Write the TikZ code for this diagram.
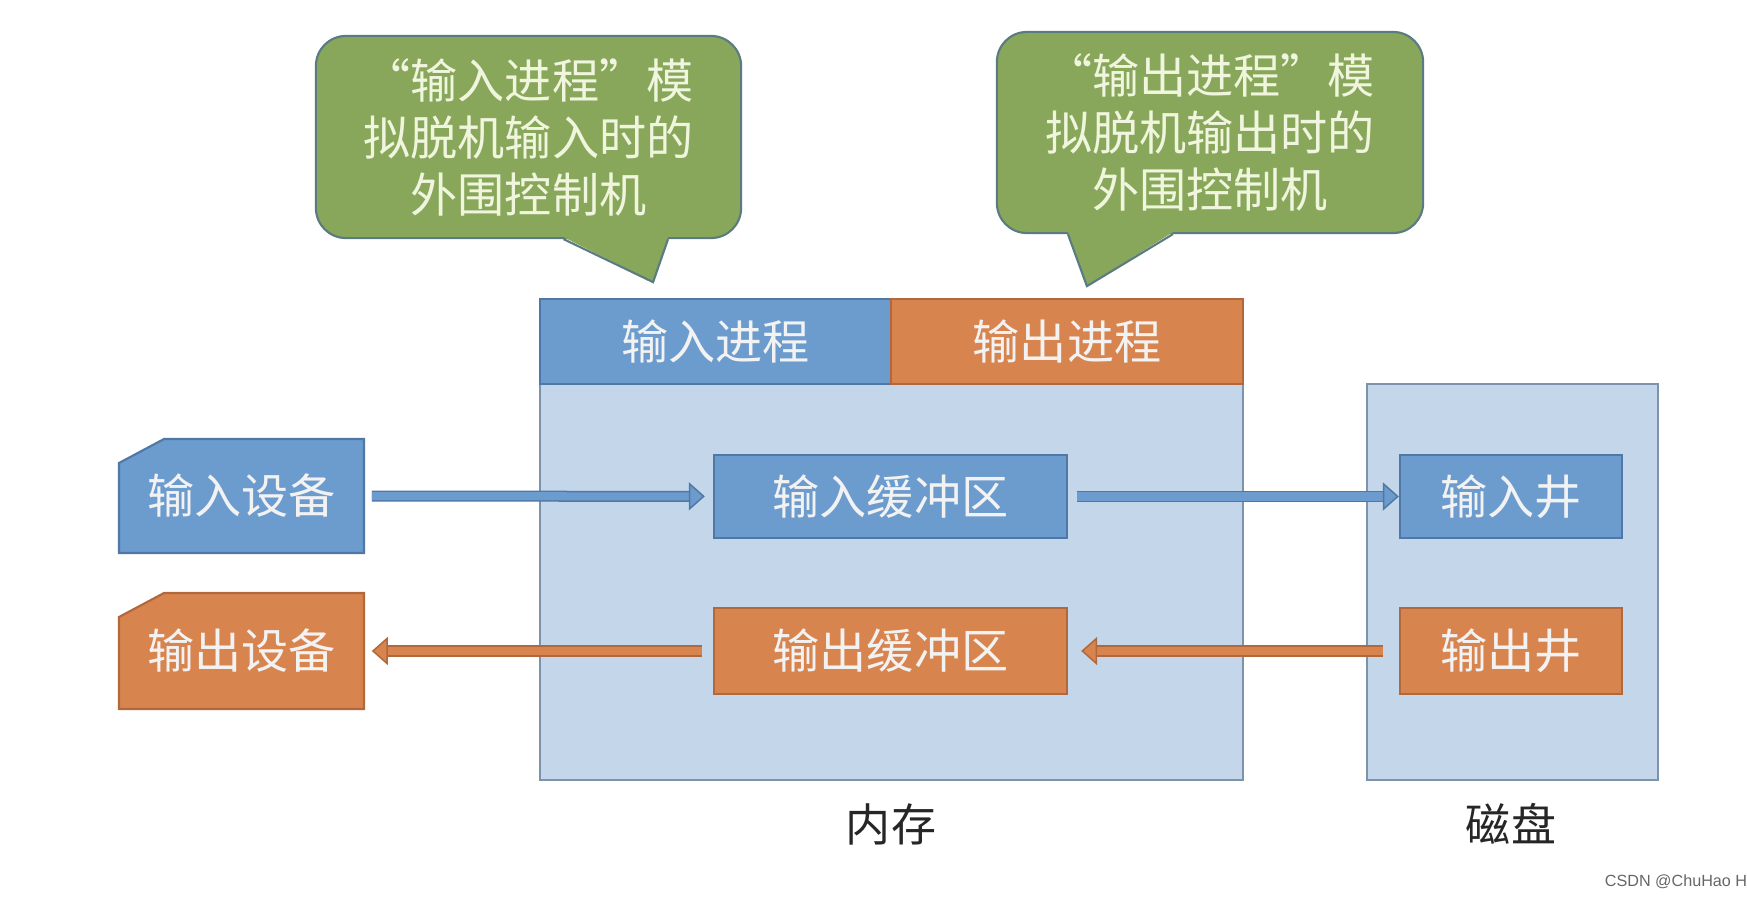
\documentclass[tikz,border=0pt]{standalone}
\usepackage{fontspec}
\setmainfont{Noto Sans CJK SC}
\newfontfamily\markfont{Liberation Sans}
\usetikzlibrary{arrows.meta}
\definecolor{procblue}{HTML}{6C9BCE}
\definecolor{blueline}{HTML}{4F78A6}
\definecolor{procorange}{HTML}{D8844F}
\definecolor{orangeline}{HTML}{B0683C}
\definecolor{memblue}{HTML}{C4D6EA}
\definecolor{memline}{HTML}{7D93AD}
\definecolor{bubblegreen}{HTML}{88A75A}
\definecolor{bubbleline}{HTML}{5B7B82}
\definecolor{bubbletext}{HTML}{F0F5DE}

\begin{document}
\begin{tikzpicture}[x=0.01cm,y=-0.01cm,
  txt/.style={font=\fontsize{13.4pt}{16.2pt}\selectfont},
  bluebox/.style={txt,rectangle,fill=procblue,draw=blueline,line width=0.6pt,text=white!95!black,inner sep=0pt},
  orangebox/.style={txt,rectangle,fill=procorange,draw=orangeline,line width=0.6pt,text=white!95!black,inner sep=0pt},
  area/.style={rectangle,fill=memblue,draw=memline,line width=0.6pt,inner sep=0pt},
  bubble/.style={txt,align=center,text=bubbletext,rounded corners=0.3cm,fill=bubblegreen,draw=bubbleline,line width=0.6pt,inner sep=0pt},
  blueflow/.style={draw=blueline,double=procblue,double distance=0.08cm,line width=0.015cm,
    -{Triangle[width=0.28cm,length=0.16cm,fill=procblue,line width=0.015cm]}},
  orangeflow/.style={draw=orangeline,double=procorange,double distance=0.08cm,line width=0.015cm,
    -{Triangle[width=0.28cm,length=0.16cm,fill=procorange,line width=0.015cm]}},
  caption/.style={font=\fontsize{12.8pt}{15pt}\selectfont,text=black!85}]
  \useasboundingbox (0,0) rectangle (1747,897);

  % speech bubbles
  \node[bubble,minimum width=4.25cm,minimum height=2.02cm] (inbubble) at (528.5,137) {“输入进程”模\\拟脱机输入时的\\外围控制机};
  \fill[bubblegreen] ([xshift=0.35cm,yshift=0.02cm]inbubble.south) -- ([xshift=1.245cm,yshift=-0.43cm]inbubble.south)
    -- ([xshift=1.395cm,yshift=0.02cm]inbubble.south) -- cycle;
  \draw[bubbleline,line width=0.6pt] ([xshift=0.35cm]inbubble.south) -- ([xshift=1.245cm,yshift=-0.43cm]inbubble.south)
    -- ([xshift=1.395cm]inbubble.south);
  \node[bubble,minimum width=4.26cm,minimum height=2.01cm] (outbubble) at (1210,132.5) {“输出进程”模\\拟脱机输出时的\\外围控制机};
  \fill[bubblegreen] ([xshift=-1.42cm,yshift=0.02cm]outbubble.south) -- ([xshift=-1.23cm,yshift=-0.52cm]outbubble.south)
    -- ([xshift=-0.37cm,yshift=0.02cm]outbubble.south) -- cycle;
  \draw[bubbleline,line width=0.6pt] ([xshift=-1.42cm]outbubble.south) -- ([xshift=-1.23cm,yshift=-0.52cm]outbubble.south)
    -- ([xshift=-0.37cm]outbubble.south);

  % memory and disk
  \node[area,minimum width=7.03cm,minimum height=3.96cm] (mem) at (891.5,582) {};
  \node[area,minimum width=2.91cm,minimum height=3.96cm] (disk) at (1512.5,582) {};
  \node[bluebox,minimum width=3.51cm,minimum height=0.85cm] (inproc) at (715.5,341.5) {输入进程};
  \node[orangebox,minimum width=3.52cm,minimum height=0.85cm] (outproc) at (1067,341.5) {输出进程};
  \node[bluebox,minimum width=3.53cm,minimum height=0.83cm] (inbuf) at (890.5,496.5) {输入缓冲区};
  \node[orangebox,minimum width=3.53cm,minimum height=0.86cm] (outbuf) at (890.5,651) {输出缓冲区};
  \node[bluebox,minimum width=2.22cm,minimum height=0.83cm] (inwell) at (1511,496.5) {输入井};
  \node[orangebox,minimum width=2.22cm,minimum height=0.86cm] (outwell) at (1511,651) {输出井};
  \node[caption] (memlabel) at (891,824) {内存};
  \node[caption] (disklabel) at (1511,824) {磁盘};

  % devices
  \filldraw[fill=procblue,draw=blueline,line width=0.6pt] (119,463) -- (164,439) -- (364,439) -- (364,553) -- (119,553) -- cycle;
  \filldraw[fill=procorange,draw=orangeline,line width=0.6pt] (119,617) -- (164,593) -- (364,593) -- (364,709) -- (119,709) -- cycle;
  \node[txt,text=white!95!black,minimum width=2.45cm,minimum height=1.14cm,inner sep=0pt] (indev) at (241.5,496) {输入设备};
  \node[txt,text=white!95!black,minimum width=2.45cm,minimum height=1.16cm,inner sep=0pt] (outdev) at (241.5,651) {输出设备};

  \draw[blueflow,shorten <=0.07cm,shorten >=0.08cm] (indev) -- (inbuf);
  \draw[blueflow,shorten <=0.09cm] (inbuf) -- (inwell);
  \draw[orangeflow,shorten <=0.16cm,shorten >=0.13cm] (outwell) -- (outbuf);
  \draw[orangeflow,shorten <=0.11cm,shorten >=0.07cm] (outbuf) -- (outdev);

  \node[font=\markfont\fontsize{4.6pt}{5pt}\selectfont,text=black!60] (mark) at (1676,882) {CSDN @ChuHao H};
\end{tikzpicture}
\end{document}
